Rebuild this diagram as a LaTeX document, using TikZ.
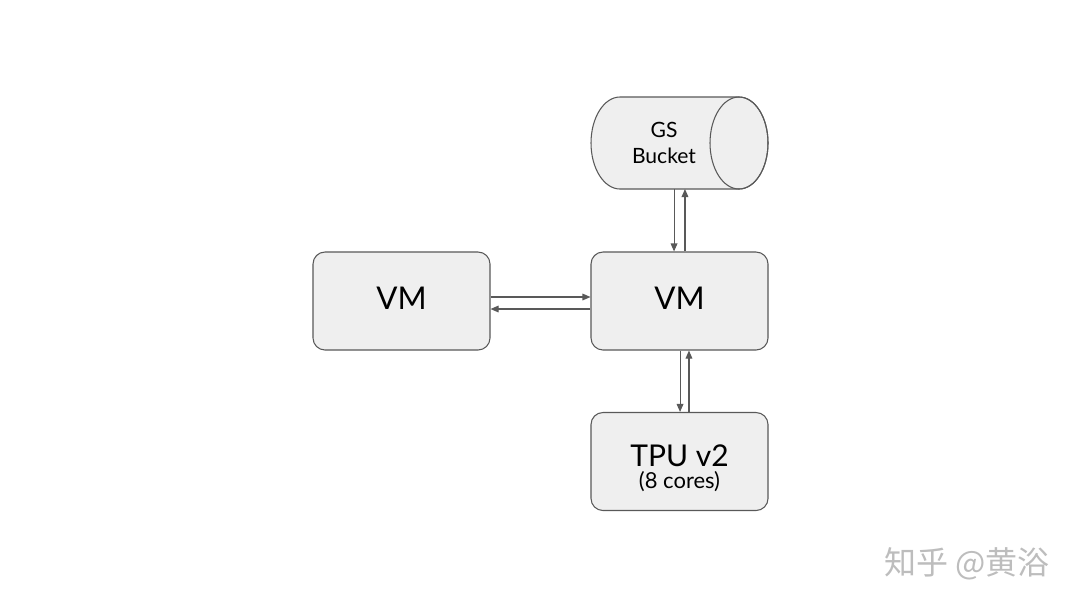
\documentclass[tikz,border=0pt]{standalone}
\usepackage{fontspec}
\setmainfont{Lato}
\newfontfamily\cjk{Noto Sans CJK SC}
\usetikzlibrary{arrows.meta,calc}
\definecolor{boxfill}{HTML}{EFEFEF}
\definecolor{boxline}{HTML}{595959}
\definecolor{wm}{HTML}{BDBDBD}
\begin{document}
\begin{tikzpicture}[x=0.75pt,y=0.75pt,
  box/.style={draw=boxline,fill=boxfill,line width=0.8pt,rounded corners=9pt,minimum width=177*0.75pt,minimum height=98*0.75pt,inner sep=0pt},
  vmtext/.style={font=\fontsize{23.5}{28}\selectfont,text depth=4pt},
  lbl/.style={inner sep=0pt,anchor=base},
  link/.style={draw=boxline,line width=0.8pt,-{Triangle[length=6pt,width=5pt]}}]
\useasboundingbox[fill=white] (0,0) rectangle (1080,-608);
% nodes
\node[box,vmtext] (vmL) at (401.5,-301) {VM};
\node[box,vmtext] (vmC) at (679.5,-301) {VM};
\node[box] (tpu) at (679.5,-461.5) {};
\node[lbl,font=\fontsize{22.5}{26}\selectfont] (tpuA) at ([yshift=-3.5pt]tpu.center) {TPU v2};
\node[lbl,font=\fontsize{16.5}{20}\selectfont] (tpuB) at ([yshift=-20.2pt]tpu.center) {(8 cores)};
% cylinder
\draw[draw=boxline,fill=boxfill,line width=0.8pt] (739,-97) -- (620,-97) arc (90:270:29 and 46) -- (739,-189) arc (-90:90:29 and 46) -- cycle;
\draw[draw=boxline,line width=0.8pt] (739,-143) ellipse (29 and 46);
\node[minimum width=177*0.75pt,minimum height=92*0.75pt,inner sep=0pt,align=center,font=\fontsize{15.8}{20}\selectfont] (gs) at (664,-143) {GS\\Bucket};
\coordinate (gsS) at (679.5,-189);
% connectors
\draw[link] ([yshift=3pt]vmL.east) -- ([yshift=3pt]vmC.west);
\draw[link] ([yshift=-6pt]vmC.west) -- ([yshift=-6pt]vmL.east);
\draw[link] ([xshift=-4.1pt]gsS) -- ([xshift=-4.1pt]vmC.north);
\draw[link] ([xshift=4.1pt]vmC.north) -- ([xshift=4.1pt]gsS);
\draw[link] ([xshift=0.4pt]vmC.south) -- ([xshift=0.4pt]tpu.north);
\draw[link] ([xshift=7.1pt]tpu.north) -- ([xshift=7.1pt]vmC.south);
% watermark
\node[text=wm,font=\cjk\fontsize{24}{26}\selectfont,anchor=west,inner sep=0pt] (wmk) at (884,-564) {知乎 @黄浴};
\end{tikzpicture}
\end{document}
